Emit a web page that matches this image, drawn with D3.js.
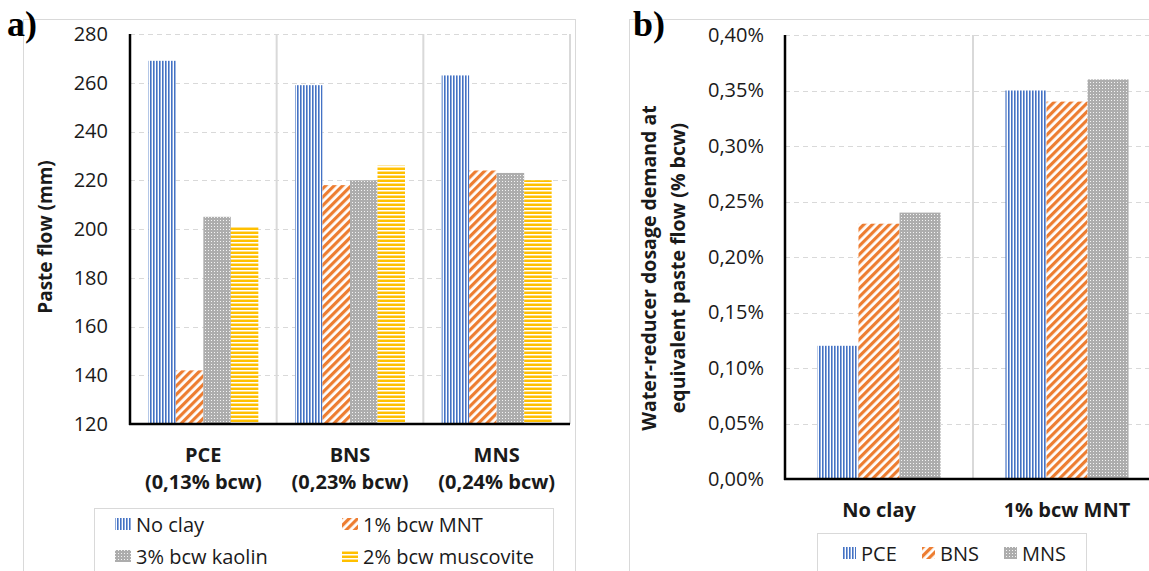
<!DOCTYPE html>
<html>
<head>
<meta charset="utf-8">
<script src="https://cdn.jsdelivr.net/npm/d3@7"></script>
<style>
  html, body { margin: 0; padding: 0; background: #fff; }
  svg { display: block; }
  text { font-family: "Open Sans", Lato, sans-serif; fill: #1a1a1a; }
  text.panel-letter { font-family: "Liberation Serif", "DejaVu Serif", serif; font-weight: bold; fill: #000; }
</style>
</head>
<body>
<svg id="chart" width="1149" height="571"></svg>
<script>
// Panel a: paste flow by water reducer and clay type
const flowCategories = ["PCE|(0,13% bcw)", "BNS|(0,23% bcw)", "MNS|(0,24% bcw)"];
const flowSeries = ["No clay", "1% bcw MNT", "3% bcw kaolin", "2% bcw muscovite"];
const flowNoClay   = [269, 259, 263];
const flowMNT      = [142, 218, 224];
const flowKaolin   = [205, 220, 223];
const flowMuscovite= [201, 226, 220];
const flowTicks = [120, 140, 160, 180, 200, 220, 240, 260, 280];

// Panel b: dosage demand at equivalent paste flow
const doseCategories = ["No clay", "1% bcw MNT"];
const doseSeries = ["PCE", "BNS", "MNS"];
const dosePCE = [0.12, 0.35];
const doseBNS = [0.23, 0.34];
const doseMNS = [0.24, 0.36];
const doseTicks = [0, 0.05, 0.10, 0.15, 0.20, 0.25, 0.30, 0.35, 0.40];

const svg = d3.select("#chart");
const defs = svg.append("defs");

// Hatch fills
function vertStripes(id) {
  const p = defs.append("pattern").attr("id", id).attr("patternUnits", "userSpaceOnUse")
    .attr("width", 3).attr("height", 4);
  p.append("rect").attr("width", 3).attr("height", 4).attr("fill", "#fff");
  p.append("rect").attr("x", 0).attr("width", 1).attr("height", 4).attr("fill", "#4472C4");
  p.append("rect").attr("x", 1).attr("width", 1).attr("height", 4).attr("fill", "#8eaadb");
}
function diagStripes(id) {
  const p = defs.append("pattern").attr("id", id).attr("patternUnits", "userSpaceOnUse")
    .attr("width", 6).attr("height", 6).attr("patternTransform", "rotate(45)");
  p.append("rect").attr("width", 6).attr("height", 6).attr("fill", "#fff");
  p.append("rect").attr("width", 3.2).attr("height", 6).attr("fill", "#ED7D31");
}
function dotGrid(id) {
  const p = defs.append("pattern").attr("id", id).attr("patternUnits", "userSpaceOnUse")
    .attr("width", 3).attr("height", 3);
  p.append("rect").attr("width", 3).attr("height", 3).attr("fill", "#adadad");
  p.append("rect").attr("x", 1).attr("y", 1).attr("width", 1).attr("height", 1).attr("fill", "#f4f4f4");
}
function horizStripes(id) {
  const p = defs.append("pattern").attr("id", id).attr("patternUnits", "userSpaceOnUse")
    .attr("width", 4).attr("height", 4);
  p.append("rect").attr("width", 4).attr("height", 4).attr("fill", "#fff");
  p.append("rect").attr("y", 0).attr("width", 4).attr("height", 2).attr("fill", "#FFC000");
  p.append("rect").attr("y", 3).attr("width", 4).attr("height", 1).attr("fill", "#ffe08a");
}
vertStripes("fillBlue");
diagStripes("fillOrange");
dotGrid("fillGray");
horizStripes("fillGold");

const GRID = "#d9d9d9";

// Panel frames
svg.append("rect").attr("x", 23.5).attr("y", 19.5).attr("width", 552).attr("height", 600)
  .attr("fill", "none").attr("stroke", GRID);
svg.append("rect").attr("x", 629.5).attr("y", 19.5).attr("width", 600).attr("height", 600)
  .attr("fill", "none").attr("stroke", GRID);

function drawPanel(cfg) {
  const g = svg.append("g");
  const x = d3.scaleBand().domain(cfg.categories).range([cfg.left, cfg.right]);
  const xi = d3.scaleBand().domain(cfg.series).range([0, x.bandwidth()])
    .paddingInner(0).paddingOuter(cfg.outerPad);
  const y = d3.scaleLinear().domain(cfg.domain).range([cfg.bottom, cfg.top]);

  // dashed horizontal gridlines
  g.append("g").selectAll("line").data(cfg.ticks.slice(1)).join("line")
    .attr("x1", cfg.left).attr("x2", cfg.right)
    .attr("y1", d => Math.round(y(d)) + 0.5).attr("y2", d => Math.round(y(d)) + 0.5)
    .attr("stroke", GRID).attr("stroke-width", 1.2).attr("stroke-dasharray", "5,4");

  // category separators
  g.append("g").selectAll("line").data(cfg.categories).join("line")
    .attr("x1", d => x(d) + x.bandwidth()).attr("x2", d => x(d) + x.bandwidth())
    .attr("y1", cfg.top).attr("y2", cfg.bottom)
    .attr("stroke", GRID).attr("stroke-width", 2);

  // bars
  cfg.series.forEach((s, si) => {
    g.append("g").selectAll("rect").data(cfg.values[si]).join("rect")
      .attr("x", (d, ci) => x(cfg.categories[ci]) + xi(s))
      .attr("width", xi.bandwidth())
      .attr("y", d => y(d))
      .attr("height", d => y(cfg.domain[0]) - y(d))
      .attr("fill", `url(#${cfg.fills[si]})`);
  });

  // y axis
  const yAxis = d3.axisLeft(y).tickValues(cfg.ticks).tickSize(0).tickPadding(0).tickFormat(cfg.format);
  const ya = g.append("g").attr("transform", `translate(${cfg.labelX},0)`).call(yAxis);
  ya.select(".domain").remove();
  ya.selectAll("text").attr("font-size", cfg.tickSize).style("font-family", "'Open Sans', sans-serif")
    .attr("fill", "#1a1a1a");

  g.append("line").attr("x1", cfg.left).attr("x2", cfg.left).attr("y1", cfg.top).attr("y2", cfg.bottom + 1)
    .attr("stroke", "#000").attr("stroke-width", 2.5);
  g.append("line").attr("x1", cfg.left - 1).attr("x2", cfg.right).attr("y1", cfg.bottom).attr("y2", cfg.bottom)
    .attr("stroke", "#000").attr("stroke-width", 2.5);

  // category labels
  cfg.categories.forEach(c => {
    const lines = c.split("|");
    lines.forEach((t, i) => {
      g.append("text").attr("x", x(c) + x.bandwidth() / 2).attr("y", cfg.catY + i * cfg.catLine)
        .attr("text-anchor", "middle").attr("font-weight", "bold").attr("font-size", cfg.catSize)
        .text(t);
    });
  });

  // rotated axis title
  cfg.title.forEach((t, i) => {
    g.append("text")
      .attr("transform", `translate(${cfg.titleX[i]},${cfg.titleY}) rotate(-90)`)
      .attr("text-anchor", "middle").attr("dominant-baseline", "central")
      .attr("font-weight", "bold").attr("font-size", cfg.titleSize).text(t);
  });

  // legend
  const lg = g.append("g");
  lg.append("rect").attr("x", cfg.legend.x + 0.5).attr("y", cfg.legend.y + 0.5)
    .attr("width", cfg.legend.w).attr("height", 100).attr("fill", "#fff").attr("stroke", GRID);
  cfg.series.forEach((s, si) => {
    const [lx, ly] = cfg.legend.pos[si];
    lg.append("rect").attr("x", lx).attr("y", ly - 6).attr("width", cfg.legend.sw).attr("height", 12)
      .attr("fill", `url(#${cfg.fills[si]})`);
    lg.append("text").attr("x", lx + cfg.legend.sw + 5).attr("y", ly)
      .attr("dominant-baseline", "central").attr("font-size", cfg.legend.size).text(s);
  });
}

drawPanel({
  categories: flowCategories, series: flowSeries,
  values: [flowNoClay, flowMNT, flowKaolin, flowMuscovite],
  fills: ["fillBlue", "fillOrange", "fillGray", "fillGold"],
  left: 130, right: 570, top: 34, bottom: 424, outerPad: 0.667,
  domain: [120, 280], ticks: flowTicks, format: d3.format("d"),
  labelX: 108, tickSize: 20,
  catY: 462, catLine: 27, catSize: 20,
  title: ["Paste flow (mm)"], titleX: [45], titleY: 237, titleSize: 19,
  legend: { x: 94, y: 508, w: 459, sw: 16, size: 20,
    pos: [[115, 524], [342, 524], [115, 556], [342, 556]] }
});

drawPanel({
  categories: doseCategories, series: doseSeries,
  values: [dosePCE, doseBNS, doseMNS],
  fills: ["fillBlue", "fillOrange", "fillGray"],
  left: 785, right: 1161, top: 35, bottom: 479, outerPad: 0.79,
  domain: [0, 0.40], ticks: doseTicks, format: d => d3.format(".2f")(d).replace(".", ",") + "%",
  labelX: 764, tickSize: 20,
  catY: 517, catLine: 27, catSize: 20,
  title: ["Water-reducer dosage demand at", "equivalent paste flow (% bcw)"],
  titleX: [648, 677], titleY: 268, titleSize: 19.5,
  legend: { x: 817, y: 533, w: 269, sw: 13, size: 20,
    pos: [[843, 553], [922, 553], [1004, 553]] }
});

// panel letters
svg.append("text").attr("class", "panel-letter").attr("x", 7).attr("y", 36)
  .attr("font-size", 36).text("a)");
svg.append("text").attr("class", "panel-letter").attr("x", 633).attr("y", 36)
  .attr("font-size", 36).text("b)");
</script>
</body>
</html>
